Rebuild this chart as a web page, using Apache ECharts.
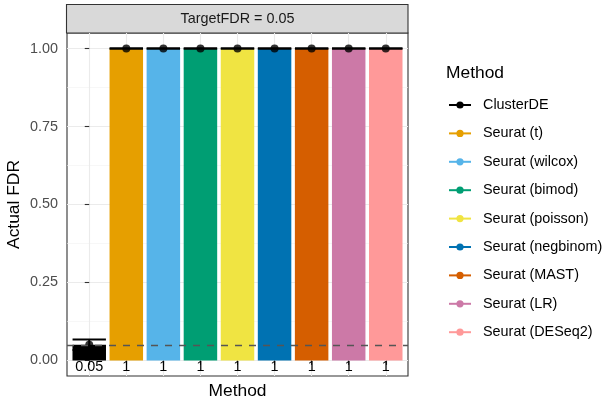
<!DOCTYPE html>
<html>
<head>
<meta charset="utf-8">
<title>Actual FDR</title>
<script src="https://cdn.jsdelivr.net/npm/echarts@6/dist/echarts.min.js"></script>
<style>
  html, body { margin: 0; padding: 0; background: #fff; }
  #box { width: 606px; height: 400px; }
</style>
</head>
<body>
<div id="box"></div>
<script type="text/javascript">
  // data
  var methods = ['ClusterDE', 'Seurat (t)', 'Seurat (wilcox)', 'Seurat (bimod)', 'Seurat (poisson)',
                 'Seurat (negbinom)', 'Seurat (MAST)', 'Seurat (LR)', 'Seurat (DESeq2)'];
  var colors = ['#000000', '#E69F00', '#56B4E9', '#009E73', '#F0E442',
                '#0072B2', '#D55E00', '#CC79A7', '#FF9999'];
  var fdr = [0.05, 1, 1, 1, 1, 1, 1, 1, 1];
  var fdrLow = [0.033, 1, 1, 1, 1, 1, 1, 1, 1];
  var fdrHigh = [0.067, 1, 1, 1, 1, 1, 1, 1, 1];
  var targetFDR = 0.05;
  var yTicks = [0, 0.25, 0.5, 0.75, 1];
  var yMinor = [0.125, 0.375, 0.625, 0.875];

  var font = 'Liberation Sans, Arial, sans-serif';
  var xPos = methods.map(function (m, i) { return i; });

  var dom = document.getElementById('box');
  var myChart = echarts.init(dom, null, { renderer: 'canvas' });

  // empty line series, only so the legend gets a line+point key per method
  var legendSeries = methods.map(function (m, i) {
    return {
      name: m,
      type: 'line',
      data: [],
      color: colors[i],
      symbol: 'circle',
      symbolSize: 7,
      lineStyle: { width: 1.5 }
    };
  });

  myChart.setOption({
    animation: false,
    textStyle: { fontFamily: font },
    grid: {
      left: 67, right: 198, top: 33, bottom: 24,
      outerBoundsMode: 'none', containLabel: false,
      show: true, borderColor: '#333333', borderWidth: 1.1, backgroundColor: '#fff'
    },
    graphic: [
      { // facet strip
        type: 'rect', x: 66.5, y: 4.5,
        shape: { width: 341.5, height: 28.5 },
        style: { fill: '#d9d9d9', stroke: '#333333', lineWidth: 1.1 }
      },
      {
        type: 'text', x: 237.5, y: 19, z: 10,
        style: { text: 'TargetFDR = ' + targetFDR, font: '14.4px ' + font, fill: '#1a1a1a',
                 align: 'center', verticalAlign: 'middle' }
      },
      {
        type: 'text', x: 446, y: 73,
        style: { text: 'Method', font: '17.4px ' + font, fill: '#000',
                 verticalAlign: 'middle' }
      }
    ],
    legend: {
      orient: 'vertical',
      left: 448, top: 98, padding: 0,
      itemWidth: 22, itemHeight: 9, itemGap: 14.4,
      selectedMode: false,
      data: methods,
      textStyle: { fontSize: 14.4, color: '#000', lineHeight: 14, padding: [0, 0, 0, 7] }
    },
    xAxis: {
      type: 'value', min: -0.6, max: 8.6,
      name: 'Method', nameLocation: 'middle', nameGap: 7,
      nameTextStyle: { fontSize: 17.4, color: '#000' },
      axisLine: { show: false },
      axisTick: { show: true, length: 4.5, customValues: xPos,
                  lineStyle: { color: '#333333', width: 1.1 } },
      axisLabel: { show: false },
      splitLine: { show: true, lineStyle: { color: '#ebebeb', width: 1.1 } }
    },
    yAxis: [
      {
        type: 'value', min: -0.05, max: 1.05,
        name: 'Actual FDR', nameLocation: 'middle', nameGap: 44, nameRotate: 90,
        nameMoveOverlap: false,
        nameTextStyle: { fontSize: 17.4, color: '#000' },
        axisLine: { show: false },
        axisTick: { show: true, length: 4.5, customValues: yTicks,
                    lineStyle: { color: '#333333', width: 1.1 } },
        axisLabel: { customValues: yTicks, margin: 9, fontSize: 14.4, color: '#4d4d4d',
                     formatter: function (v) { return v.toFixed(2); } },
        splitLine: { show: true, lineStyle: { color: '#ebebeb', width: 1.1 } }
      },
      {
        type: 'value', min: -0.05, max: 1.05, position: 'left',
        axisLine: { show: false },
        axisTick: { show: false, customValues: yMinor },
        axisLabel: { show: false, customValues: yMinor },
        splitLine: { show: true, lineStyle: { color: '#f2f2f2', width: 0.6 } }
      }
    ],
    series: [
      {
        type: 'bar',
        barWidth: 33.5,
        data: fdr.map(function (v, i) {
          return { value: [i, v], itemStyle: { color: colors[i] } };
        }),
        label: {
          show: true, position: 'bottom', distance: 0,
          fontSize: 14.4, color: '#000',
          formatter: function (p) { return String(p.value[1]); }
        },
        markLine: {
          silent: true, symbol: 'none', label: { show: false },
          lineStyle: { color: '#555555', type: [7, 7], width: 1.4 },
          data: [{ yAxis: targetFDR }]
        },
        z: 2
      },
      {
        type: 'custom',
        data: fdr.map(function (v, i) { return [i, fdrLow[i], fdrHigh[i]]; }),
        renderItem: function (params, api) {
          var lo = api.coord([api.value(0), api.value(1)]);
          var hi = api.coord([api.value(0), api.value(2)]);
          var half = api.size([0.9, 0])[0] / 2;
          var st = { stroke: '#000', lineWidth: 2 };
          return {
            type: 'group',
            children: [
              { type: 'line', shape: { x1: lo[0], y1: lo[1], x2: hi[0], y2: hi[1] }, style: st },
              { type: 'line', shape: { x1: hi[0] - half, y1: hi[1], x2: hi[0] + half, y2: hi[1] }, style: st },
              { type: 'line', shape: { x1: lo[0] - half, y1: lo[1], x2: lo[0] + half, y2: lo[1] }, style: st }
            ]
          };
        },
        z: 3
      },
      {
        type: 'scatter',
        data: fdr.map(function (v, i) { return [i, v]; }),
        symbol: 'circle', symbolSize: 8,
        itemStyle: { color: '#000' },
        z: 4
      }
    ].concat(legendSeries)
  });
</script>
</body>
</html>
